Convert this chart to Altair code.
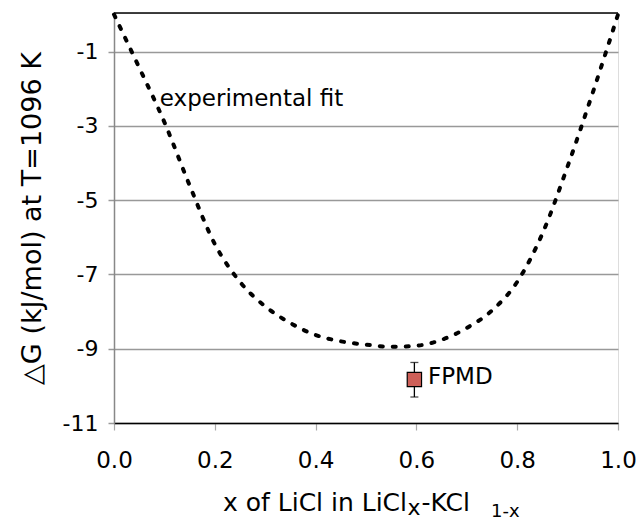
import altair as alt
import pandas as pd

# experimental fit curve
fit_x = [0.0, 0.05, 0.10, 0.15, 0.20, 0.25, 0.30, 0.35, 0.40, 0.45, 0.50, 0.55, 0.60, 0.65, 0.70, 0.75, 0.80, 0.85, 0.90, 0.95, 1.0]
fit_y = [0.0, -1.43, -2.90, -4.60, -6.18, -7.20, -7.86, -8.31, -8.63, -8.80, -8.89, -8.95, -8.92, -8.76, -8.44, -7.97, -7.20, -5.90, -4.09, -2.10, 0.0]

# FPMD point with error bar
fpmd_x = [0.596]
fpmd_y = [-9.83]
fpmd_lo = [-10.30]
fpmd_hi = [-9.37]

x_ticks = [0.0, 0.2, 0.4, 0.6, 0.8, 1.0]
y_ticks = [-11, -9, -7, -5, -3, -1]

labels_text = ["experimental fit", "FPMD"]
labels_x = [0.091, 0.623]
labels_y = [-2.46, -9.95]

FONT = "DejaVu Sans"

fit_df = pd.DataFrame({"x": fit_x, "y": fit_y})
pt_df = pd.DataFrame({"x": fpmd_x, "y": fpmd_y, "lo": fpmd_lo, "hi": fpmd_hi})
lab_df = pd.DataFrame({"t": labels_text, "x": labels_x, "y": labels_y})

xs = alt.Scale(domain=[0, 1], nice=False, zero=False)
ys = alt.Scale(domain=[-11, 0.04], nice=False, zero=False)

x_axis = alt.Axis(
    values=x_ticks, format=".1f", title="", grid=False, labelFlush=False,
    labelFont=FONT, labelFontSize=23, labelColor="black", labelPadding=19,
    domainColor="black", domainWidth=1.5, tickColor="#aaaaaa", tickSize=7, tickWidth=1.2,
)
y_axis = alt.Axis(
    values=y_ticks, title="△G (kJ/mol) at T=1096 K", grid=True, labelFlush=False,
    labelExpr="datum.value < 0 ? '-' + abs(datum.value) : '' + datum.value",
    gridColor="#999999", gridWidth=1.5,
    labelFont=FONT, labelFontSize=22, labelColor="black", labelPadding=10,
    titleFont=FONT, titleFontSize=27, titleFontWeight="normal", titleColor="black", titlePadding=16,
    domainColor="#888888", domainWidth=1.5, tickColor="#999999", tickSize=6, tickWidth=1.5,
)

fit = alt.Chart(fit_df).mark_line(
    color="black", strokeWidth=4, strokeDash=[3, 10], strokeCap="round", interpolate="monotone"
).encode(
    x=alt.X("x:Q", scale=xs, axis=x_axis),
    y=alt.Y("y:Q", scale=ys, axis=y_axis),
)

top_border = alt.Chart(pt_df).mark_rule(color="black", strokeWidth=1.5).encode(
    x=alt.value(0), x2=alt.value(504), y=alt.value(0)
)

err = alt.Chart(pt_df).mark_errorbar(ticks={"size": 8}, color="black", thickness=1.3).encode(
    x=alt.X("x:Q", scale=xs),
    y=alt.Y("lo:Q", scale=ys, title=""),
    y2="hi:Q",
)

pt = alt.Chart(pt_df).mark_square(
    size=205, color="#cd5f58", opacity=1, stroke="black", strokeWidth=1.2
).encode(
    x=alt.X("x:Q", scale=xs),
    y=alt.Y("y:Q", scale=ys),
)

labels = alt.Chart(lab_df).mark_text(
    align="left", baseline="alphabetic", font=FONT, fontSize=23, color="black"
).encode(
    x=alt.X("x:Q", scale=xs),
    y=alt.Y("y:Q", scale=ys),
    text="t:N",
)

# x-axis title with subscripts, built from text pieces
def title_piece(txt, px, py, size):
    return alt.Chart(pt_df).mark_text(
        text=txt, align="left", baseline="alphabetic", font=FONT, fontSize=size, color="black"
    ).encode(x=alt.value(px), y=alt.value(py))

xtitle = [
    title_piece("x of LiCl in LiCl", 109, 497.5, 25),
    title_piece("x", 293.5, 501.5, 22),
    title_piece("-KCl", 307.5, 497.5, 25),
    title_piece("1-x", 377, 503.5, 18),
]

chart = alt.layer(fit, top_border, err, pt, labels, *xtitle).properties(
    width=504, height=410,
    autosize=alt.AutoSizeParams(type="none"),
    padding={"left": 114, "top": 13, "right": 25, "bottom": 97},
).configure_view(stroke="#777777", strokeWidth=1.5).configure(background="white")

chart.save("out.html", embed_options={"renderer": "svg", "actions": False})
